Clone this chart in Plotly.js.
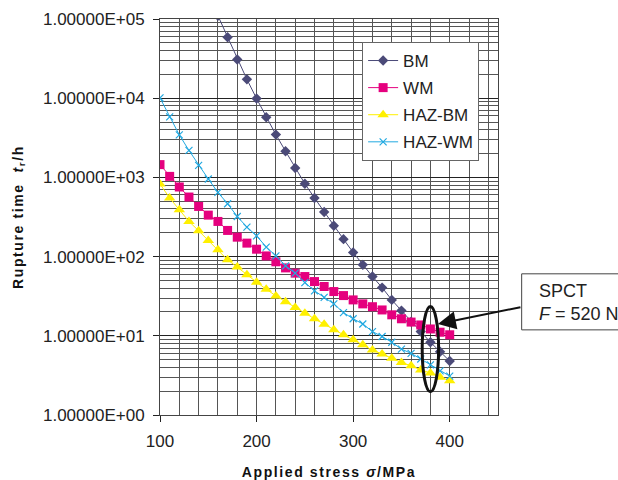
<!DOCTYPE html>
<html>
<head>
<meta charset="utf-8">
<script src="https://cdn.plot.ly/plotly-3.0.1.min.js"></script>
<style>
html,body{margin:0;padding:0;background:#fff;}
#chart{width:618px;height:480px;}
.xtitle,.ytitle{letter-spacing:1.6px;}
</style>
</head>
<body>
<div id="chart"></div>
<script>
// ---- data ----
var stressAll = [100,110,120,130,140,150,160,170,180,190,200,210,220,230,240,250,260,270,280,290,300,310,320,330,340,350,360,370,380,390,400];
var stressBM = [160,170,180,190,200,210,220,230,240,250,260,270,280,290,300,310,320,330,340,350,360,370,380,390,400];
var timeBM = [110000,58900,30800,17300,9900,5740,3470,2140,1315,832,550,365,245,166,113,78.7,56,40.6,28.4,20.8,15.1,11.3,8.3,6.3,4.8];
var timeWM = [1450,1030,757,565,430,334,278,214,176,148,124,102,86,72,61.8,56,48.4,41.9,36.2,32.2,28.4,25.3,23.3,21.2,18.4,16.4,14.9,13.7,12.2,11.1,10.3];
var timeHAZBM = [826,549,391,278,212,160,122,91,73.7,58.9,47.6,38.8,31.9,27,22.7,19.3,16.4,14,11.9,10.3,8.9,7.7,6.6,5.9,5.2,4.6,4.2,3.7,3.4,3.0,2.7];
var timeHAZWM = [10090,5800,3440,2190,1420,955,646,465,321,236,183,132,102,76.5,61.8,47,37,30.6,25.3,19.6,16.4,14.1,11.3,9.8,8.3,6.8,6.0,5.1,4.3,3.6,3.1];
var seriesNames = ['BM','WM','HAZ-BM','HAZ-WM'];
var yTickVals = [1,10,100,1000,10000,100000];
var yTickText = ['1.00000E+00','1.00000E+01','1.00000E+02','1.00000E+03','1.00000E+04','1.00000E+05'];
var xTickVals = [100,200,300,400];
var spctLabel = 'SPCT<br><i>F</i> = 520 N';

var FONT = '"Liberation Sans", Arial, Helvetica, sans-serif';

var traces = [
  {x: stressBM, y: timeBM, name: seriesNames[0], legendgroup:'a', mode:'lines+markers',
   line:{color:'#4b4a78', width:1}, marker:{symbol:'diamond', size:8, color:'#4b4a78'}},
  {x: stressAll, y: timeWM, name: seriesNames[1], legendgroup:'b', mode:'lines+markers',
   line:{color:'#e5007e', width:1}, marker:{symbol:'square', size:9, color:'#e5007e'}},
  {x: stressAll, y: timeHAZBM, name: seriesNames[2], legendgroup:'c', mode:'lines+markers',
   line:{color:'#fff000', width:1}, marker:{symbol:'triangle-up', size:10, color:'#fff000'}},
  {x: stressAll, y: timeHAZWM, name: seriesNames[3], legendgroup:'d', mode:'lines+markers',
   line:{color:'#22a9e1', width:1}, marker:{symbol:'x-thin-open', size:7, color:'#22a9e1', line:{color:'#22a9e1', width:1.2}}}
];

var layout = {
  width: 618, height: 480,
  margin: {l:160, r:120, t:19, b:65},
  paper_bgcolor:'#fff', plot_bgcolor:'#fff',
  font: {family: FONT, size: 17, color:'#222'},
  showlegend: true,
  legend: {x:0.598, y:0.942, xanchor:'left', yanchor:'top', bgcolor:'#fff',
           bordercolor:'#666', borderwidth:1, font:{family:FONT, size:17, color:'#222'},
           tracegroupgap:2, itemwidth:30},
  xaxis: {
    range:[100,450], tickvals: xTickVals, ticks:'outside', ticklen:6, tickcolor:'#222',
    ticklabelstandoff:5,
    showgrid:true, gridcolor:'#555', gridwidth:1,
    minor:{dtick:20, tick0:100, showgrid:true, gridcolor:'#555', gridwidth:1, ticks:''},
    showline:true, linecolor:'#444', linewidth:1, mirror:true, zeroline:false,
    tickfont:{family:FONT, size:17, color:'#222'},
    title:{text:'Applied stress <i>σ</i>/MPa', font:{family:FONT, size:14, color:'#111', weight:'bold'}, standoff:16}
  },
  yaxis: {
    type:'log', range:[0,5], tickvals: yTickVals, ticktext: yTickText,
    ticks:'outside', ticklen:6, tickcolor:'#222',
    ticklabelstandoff:5,
    showgrid:true, gridcolor:'#222', gridwidth:1,
    minor:{dtick:'D1', showgrid:true, gridcolor:'#555', gridwidth:1, ticks:''},
    showline:true, linecolor:'#444', linewidth:1, mirror:true, zeroline:false,
    tickfont:{family:FONT, size:17, color:'#222'},
    title:{text:'Rupture time  <i>t</i><sub>r</sub>/h', font:{family:FONT, size:14, color:'#111', weight:'bold'}, standoff:16}
  },
  shapes: [
    {type:'circle', xref:'x', yref:'y', x0:371.5, x1:388.5, y0:1.97, y1:23.4,
     line:{color:'#111', width:3}},
    {type:'rect', xref:'paper', yref:'paper', x0:1.070, x1:1.6, y0:0.215, y1:0.3565,
     line:{color:'#444', width:1}, fillcolor:'rgba(0,0,0,0)'}
  ],
  annotations: [
    {xref:'x', yref:'y', x:387.8, y:1.15, text:'', showarrow:true,
     axref:'pixel', ayref:'pixel', ax:84, ay:-17,
     arrowhead:2, arrowsize:1.8, arrowwidth:2, arrowcolor:'#111', standoff:0},
    {xref:'paper', yref:'paper', x:1.1145, y:0.2845, xanchor:'left', yanchor:'middle',
     text: spctLabel, showarrow:false, align:'left',
     font:{family:FONT, size:18, color:'#222'}}
  ]
};

Plotly.newPlot('chart', traces, layout, {staticPlot:true, displayModeBar:false});
</script>
</body>
</html>
